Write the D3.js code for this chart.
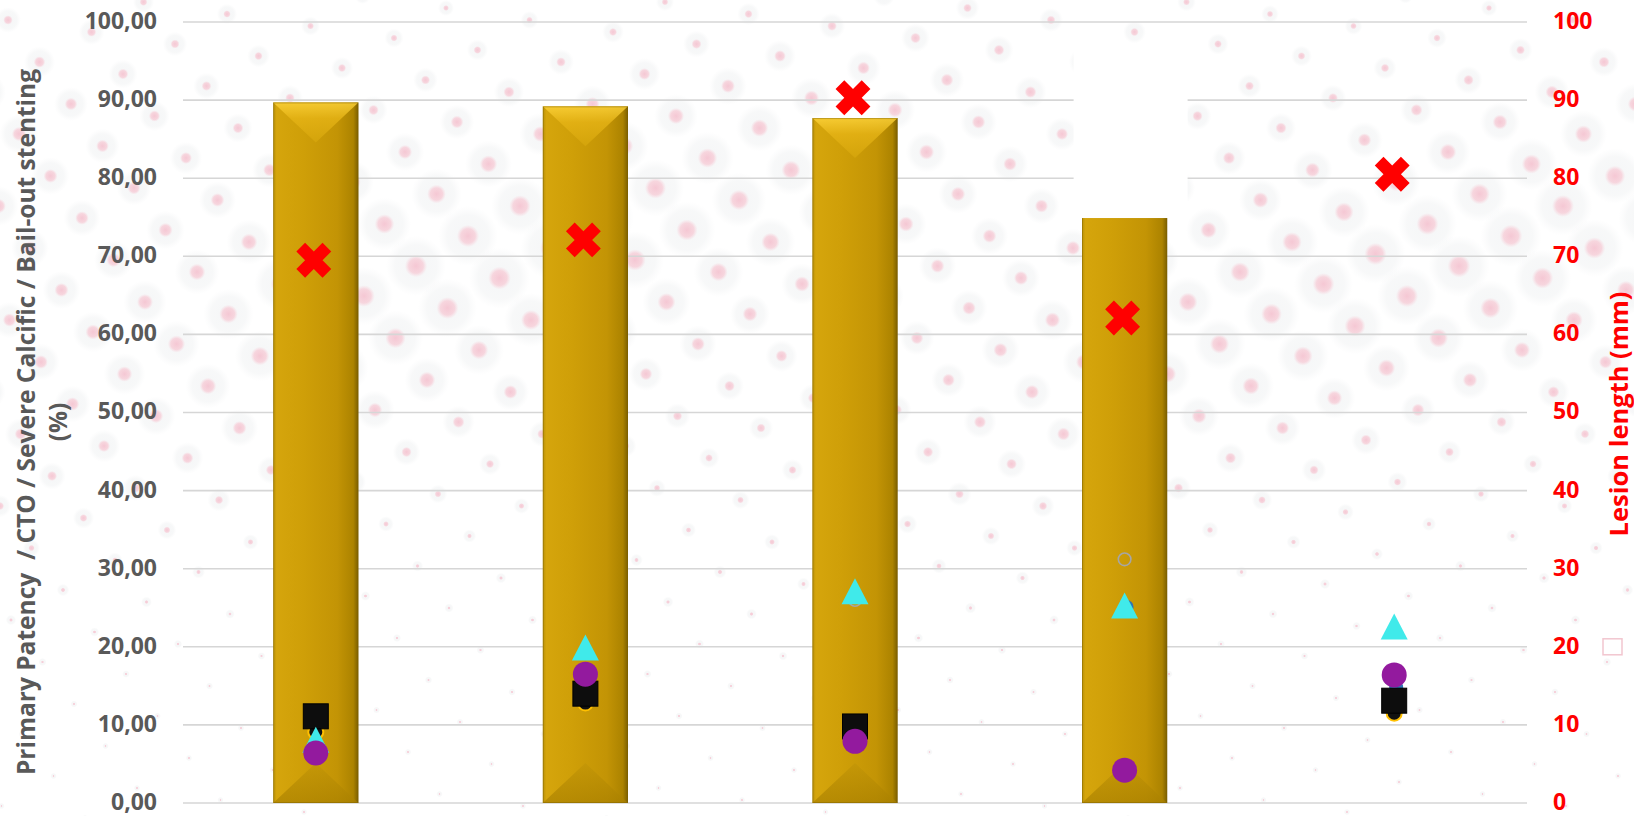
<!DOCTYPE html>
<html>
<head>
<meta charset="utf-8">
<script src="https://cdn.jsdelivr.net/npm/d3@7"></script>
<style>
  html, body { margin: 0; padding: 0; background: #fff; }
  svg { display: block; }
</style>
</head>
<body>
<script>
// data
const categories = ["1", "2", "3", "4", "5"];
const barValues = [89.7, 89.2, 87.7, 84.0, null];          // golden bars, left axis (%)
const squareValues = [11.1, 14.0, 9.8, null, 13.1];        // black squares
const triangleValues = [8.1, 19.9, 27.1, 25.3, 22.6];      // cyan triangles
const purpleValues = [6.4, 16.5, 7.9, 4.2, 16.4];          // purple dots
const yellowValues = [9.1, 12.8, null, null, 11.5];        // small gold-ringed dots
const greyValues = [null, null, 26.0, 31.2, null];         // hollow grey dots
const blueValues = [null, null, null, 25.1, 14.8];         // blue dots
const lesionLength = [69.5, 72.1, 90.3, 62.1, 80.5];       // red crosses, right axis (mm)
const leftTicks = d3.range(0, 101, 10);
const rightTicks = d3.range(0, 101, 10);

const width = 1634, height = 816;
const plot = {left: 183, right: 1527, top: 22, bottom: 803};

const svg = d3.select("body").append("svg")
    .attr("width", width)
    .attr("height", height);

const defs = svg.append("defs");

// background texture: pink dots sitting in pale grey halos
const halo = defs.append("radialGradient").attr("id", "halo");
halo.append("stop").attr("offset", "0%").attr("stop-color", "#eceef0").attr("stop-opacity", 0.55);
halo.append("stop").attr("offset", "70%").attr("stop-color", "#eef0f1").attr("stop-opacity", 0.45);
halo.append("stop").attr("offset", "100%").attr("stop-color", "#f2f3f4").attr("stop-opacity", 0);
const core = defs.append("radialGradient").attr("id", "core");
core.append("stop").attr("offset", "0%").attr("stop-color", "#f5b8c8").attr("stop-opacity", 0.75);
core.append("stop").attr("offset", "65%").attr("stop-color", "#f7c4d0").attr("stop-opacity", 0.65);
core.append("stop").attr("offset", "100%").attr("stop-color", "#f8d0da").attr("stop-opacity", 0);

const bgDots = [];
for (let i = -12; i < 30; i++) {
    for (let j = -20; j < 40; j++) {
        const px = 8 + i * 31.5 + j * 52;
        const py = 20 + i * 42 - j * 30;
        if (px < -30 || px > width + 30 || py < -30 || py > height + 30) continue;
        const a = Math.exp(-Math.pow((py - 255) / 230, 2));
        const r = 1.0 + 9 * a * (0.78 + 0.22 * Math.cos(px / 150 + py / 90));
        bgDots.push({px, py, r});
    }
}
const dotG = svg.append("g").attr("class", "bg-dots");
dotG.selectAll(".halo").data(bgDots).enter().append("circle")
    .attr("class", "halo")
    .attr("cx", d => d.px).attr("cy", d => d.py)
    .attr("r", d => d.r * 3.1)
    .attr("fill", "url(#halo)");
dotG.selectAll(".core").data(bgDots).enter().append("circle")
    .attr("class", "core")
    .attr("cx", d => d.px).attr("cy", d => d.py)
    .attr("r", d => d.r * 1.15)
    .attr("fill", "url(#core)");

// scales
const x = d3.scaleBand()
    .domain(categories)
    .range([181, 1529])
    .paddingInner(0.684)
    .paddingOuter(0.342);

const yL = d3.scaleLinear().domain([0, 100]).range([plot.bottom, plot.top]);
const yR = d3.scaleLinear().domain([0, 100]).range([plot.bottom, plot.top]);
const cx = c => x(c) + x.bandwidth() / 2;

// gridlines
svg.append("g").attr("class", "grid")
    .selectAll("line")
    .data(leftTicks)
    .enter().append("line")
    .attr("x1", plot.left)
    .attr("x2", plot.right)
    .attr("y1", d => yL(d))
    .attr("y2", d => yL(d))
    .attr("stroke", "#d6d6d6")
    .attr("stroke-width", 1.6);

// left axis
const fmt = d => d3.format(".2f")(d).replace(".", ",");
const leftAxis = svg.append("g")
    .attr("transform", `translate(157,0)`)
    .call(d3.axisLeft(yL).tickValues(leftTicks).tickFormat(fmt).tickSize(0).tickPadding(0));
leftAxis.select(".domain").remove();
leftAxis.selectAll("text")
    .attr("fill", "#595959")
    .attr("font-family", "'Open Sans', sans-serif")
    .attr("font-weight", 700)
    .attr("font-size", 23)
    .attr("dy", "0.28em");

// right axis
const rightAxis = svg.append("g")
    .attr("transform", `translate(1553,0)`)
    .call(d3.axisRight(yR).tickValues(rightTicks).tickSize(0).tickPadding(0));
rightAxis.select(".domain").remove();
rightAxis.selectAll("text")
    .attr("fill", "#ff0000")
    .attr("font-family", "'Open Sans', sans-serif")
    .attr("font-weight", 700)
    .attr("font-size", 23)
    .attr("dy", "0.28em");

// axis titles
const leftTitle = svg.append("text")
    .attr("transform", "translate(35,422) rotate(-90)")
    .attr("text-anchor", "middle")
    .attr("fill", "#595959")
    .attr("font-family", "'Open Sans', sans-serif")
    .attr("font-weight", 700)
    .attr("font-size", 24.5);
leftTitle.append("tspan").attr("x", 0).attr("y", 0)
    .attr("xml:space", "preserve")
    .text("Primary Patency  / CTO / Severe Calcific / Bail-out stenting");
leftTitle.append("tspan").attr("x", 0).attr("y", 32).text("(%)");

svg.append("text")
    .attr("transform", "translate(1628,414) rotate(-90)")
    .attr("text-anchor", "middle")
    .attr("fill", "#ff0000")
    .attr("font-family", "'Open Sans', sans-serif")
    .attr("font-weight", 700)
    .attr("font-size", 25.5)
    .text("Lesion length (mm)");

// bar gradients
const side = defs.append("linearGradient").attr("id", "barSide").attr("x1", 0).attr("x2", 1).attr("y1", 0).attr("y2", 0);
[["0%", "#b8900a"], ["4%", "#d5a50c"], ["35%", "#cf9f08"], ["75%", "#c39405"], ["94%", "#ac8300"], ["100%", "#7a5e00"]]
    .forEach(s => side.append("stop").attr("offset", s[0]).attr("stop-color", s[1]));
const topBevel = defs.append("linearGradient").attr("id", "barTop").attr("x1", 0).attr("x2", 0).attr("y1", 0).attr("y2", 1);
[["0%", "#ffd53c"], ["40%", "#e6b416"], ["100%", "#d6a60c"]]
    .forEach(s => topBevel.append("stop").attr("offset", s[0]).attr("stop-color", s[1]));
const botBevel = defs.append("linearGradient").attr("id", "barBot").attr("x1", 0).attr("x2", 0).attr("y1", 0).attr("y2", 1);
[["0%", "#c29507"], ["100%", "#a98000"]]
    .forEach(s => botBevel.append("stop").attr("offset", s[0]).attr("stop-color", s[1]));

const barData = categories.map((c, i) => ({c, v: barValues[i]})).filter(d => d.v != null);
const bars = svg.append("g").attr("class", "bars")
    .selectAll("g")
    .data(barData)
    .enter().append("g");

const bevel = 40;
bars.append("rect")
    .attr("x", d => x(d.c))
    .attr("y", d => yL(d.v))
    .attr("width", x.bandwidth())
    .attr("height", d => yL(0) - yL(d.v))
    .attr("fill", "url(#barSide)");
bars.append("path")
    .attr("d", d => {
        const x0 = x(d.c), x1 = x0 + x.bandwidth(), t = yL(d.v);
        return `M${x0},${t} L${x1},${t} L${(x0 + x1) / 2},${t + bevel} Z`;
    })
    .attr("fill", "url(#barTop)")
    .attr("opacity", 0.8);
bars.append("path")
    .attr("d", d => {
        const x0 = x(d.c), x1 = x0 + x.bandwidth(), b = yL(0);
        return `M${x0},${b} L${x1},${b} L${(x0 + x1) / 2},${b - bevel} Z`;
    })
    .attr("fill", "url(#barBot)")
    .attr("opacity", 0.7);
bars.append("rect")
    .attr("x", d => x(d.c) + 0.5)
    .attr("y", d => yL(d.v) + 0.5)
    .attr("width", x.bandwidth() - 1)
    .attr("height", d => yL(0) - yL(d.v) - 1)
    .attr("fill", "none")
    .attr("stroke", "#7f6200")
    .attr("stroke-opacity", 0.45)
    .attr("stroke-width", 1);

// white box covering the top of the 4th bar
svg.append("rect")
    .attr("x", cx(categories[3]) - 51)
    .attr("y", yL(97.2))
    .attr("width", 114)
    .attr("height", yL(74.9) - yL(97.2))
    .attr("fill", "#ffffff");

// markers
const pts = vals => categories.map((c, i) => ({c, v: vals[i]})).filter(d => d.v != null);
const markers = svg.append("g").attr("class", "markers");

markers.selectAll(".m-grey").data(pts(greyValues)).enter().append("circle")
    .attr("class", "m-grey")
    .attr("cx", d => cx(d.c)).attr("cy", d => yL(d.v)).attr("r", 6.3)
    .attr("fill", "none").attr("stroke", "#a6a6a6").attr("stroke-width", 1.6);

markers.selectAll(".m-blue").data(pts(blueValues)).enter().append("circle")
    .attr("class", "m-blue")
    .attr("cx", d => cx(d.c) + 2).attr("cy", d => yL(d.v)).attr("r", 7)
    .attr("fill", "#2e75b6");

markers.selectAll(".m-yellow").data(pts(yellowValues)).enter().append("circle")
    .attr("class", "m-yellow")
    .attr("cx", d => cx(d.c)).attr("cy", d => yL(d.v)).attr("r", 7.5)
    .attr("fill", "#111").attr("stroke", "#ffc000").attr("stroke-width", 2);

markers.selectAll(".m-square").data(pts(squareValues)).enter().append("rect")
    .attr("class", "m-square")
    .attr("x", d => cx(d.c) - 12.5).attr("y", d => yL(d.v) - 12.5)
    .attr("width", 25).attr("height", 25)
    .attr("fill", "#0d0d0d").attr("stroke", "#000").attr("stroke-width", 1);

markers.selectAll(".m-tri").data(pts(triangleValues)).enter().append("path")
    .attr("class", "m-tri")
    .attr("transform", d => `translate(${cx(d.c)},${yL(d.v)})`)
    .attr("d", "M0,-13 L13.5,13 L-13.5,13 Z")
    .attr("fill", "#40eaea");

markers.selectAll(".m-purple").data(pts(purpleValues)).enter().append("circle")
    .attr("class", "m-purple")
    .attr("cx", d => cx(d.c)).attr("cy", d => yL(d.v)).attr("r", 12.5)
    .attr("fill", "#931a9e");

markers.selectAll(".m-x").data(pts(lesionLength)).enter().append("path")
    .attr("class", "m-x")
    .attr("transform", d => `translate(${cx(d.c) - 2},${yR(d.v)}) rotate(45)`)
    .attr("d", d3.symbol(d3.symbolCross, 760))
    .attr("fill", "#ff0000");

// faint square mark at the right edge
svg.append("rect")
    .attr("x", 1603)
    .attr("y", yR(20) - 8)
    .attr("width", 19)
    .attr("height", 16)
    .attr("fill", "none")
    .attr("stroke", "#f2c6cf")
    .attr("stroke-width", 1.5);
</script>
</body>
</html>
